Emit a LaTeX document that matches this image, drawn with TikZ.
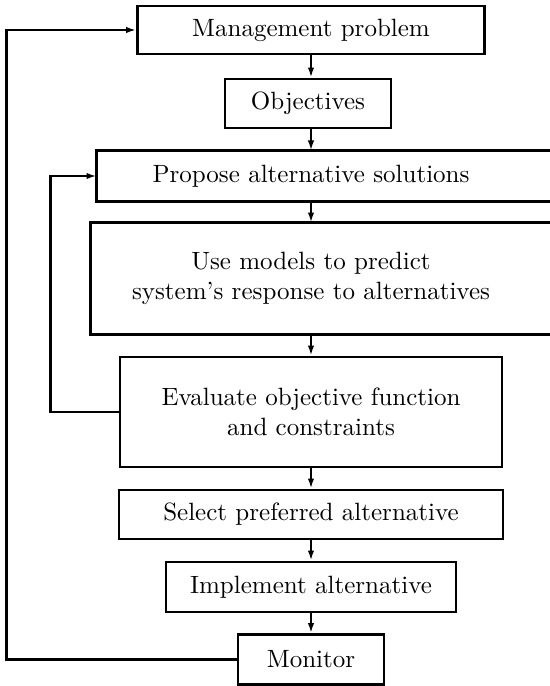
\documentclass[tikz,border=0pt]{standalone}
\usetikzlibrary{arrows.meta,
                calc,
                positioning
                }

\begin{document}
\begin{tikzpicture}[
x=0.4pt, y=-0.4pt,
    BX/.style 2 args = {draw, line width=1.15pt, inner sep=0pt, align=center,
        minimum width=#1*0.4pt, minimum height=#2*0.4pt},
    TX/.style 2 args = {inner sep=0pt, align=center,
        minimum width=#1*0.4pt, minimum height=#2*0.4pt},
    FR/.style = {line width=1.15pt},
    AR/.style = {-{Latex[length=4pt,width=2.6pt]}, line width=1.15pt},
                        ]
\useasboundingbox (0,0) rectangle (549,686);
\node[BX={347}{48}]  (mp) at (311,30)    {Management problem};
\node[BX={166}{49}]  (ob) at (308,103.5) {Objectives};
\node[TX={428}{50}]  (pa) at (311,176)   {Propose alternative solutions};
\node[TX={440}{111}] (um) at (311,278.5) {Use models to predict\\
                                          system's response to alternatives};
\node[BX={382}{110}] (ev) at (311,412)   {Evaluate objective function\\
                                          and constraints};
\node[BX={384}{49}]  (sp) at (311,514.5) {Select preferred alternative};
\node[BX={290}{50}]  (ia) at (311,587)   {Implement alternative};
\node[BX={146}{50}]  (mo) at (311,659.5) {Monitor};
% wide boxes run off the right edge
\draw[FR]   (pa.north west) rectangle ($(pa.south east)+(40,0)$);
\draw[FR]   (um.north west) rectangle ($(um.south east)+(40,0)$);
%
\foreach \a/\b in {mp/ob, ob/pa, pa/um, um/ev, ev/sp, sp/ia, ia/mo}
    \draw[AR]   (\a.south -| mp) -- (\b.north -| mp);
\draw[AR]   (mo.west) -- ++(-230,0) |- (mp.west);
\draw[AR]   (ev.west) -- ++(-68,0)  |- (pa.west);
\end{tikzpicture}
\end{document}
